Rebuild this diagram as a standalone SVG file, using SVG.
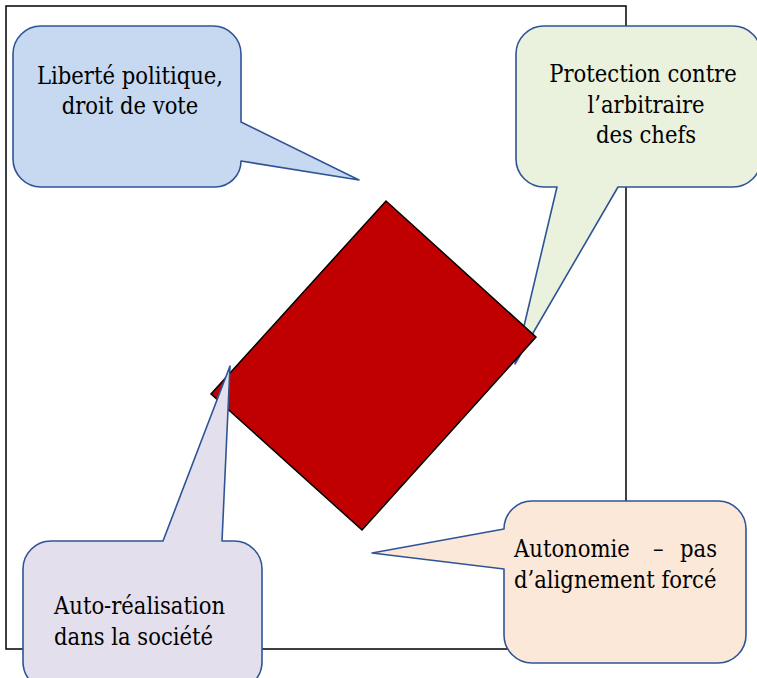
<svg xmlns="http://www.w3.org/2000/svg" width="757" height="678" viewBox="0 0 757 678">
  <style>
    .frame { fill: #ffffff; stroke: #000000; stroke-width: 1.5; }
    .callout { stroke: #2F5496; stroke-width: 1.6; stroke-linejoin: round; }
    .blue { fill: #C6D9F0; }
    .green { fill: #EAF1DD; }
    .peach { fill: #FCE8D8; }
    .lav { fill: #E4DFEC; }
    .diamond { fill: #C00000; stroke: #000000; stroke-width: 1.5; stroke-linejoin: miter; }
    text { font-family: 'DejaVu Serif Condensed', 'DejaVu Serif', 'Liberation Serif', serif; font-stretch: condensed; font-size: 23.5px; fill: #000000; }
  </style>
  <rect id="frame" class="frame" x="6" y="6" width="620" height="643"/>

  <g id="node-liberte">
    <path class="callout blue" d="M 41 26 H 213 A 28 28 0 0 1 241 54 V 122 L 359 180 L 241 161 A 26 26 0 0 1 215 187 H 41 A 28 28 0 0 1 13 159 V 54 A 28 28 0 0 1 41 26 Z"/>
    <text text-anchor="middle"><tspan x="130" y="83.5">Liberté politique,</tspan><tspan x="130" y="113.5">droit de vote</tspan></text>
  </g>

  <g id="node-protection">
    <path class="callout green" d="M 544 26 H 733 A 28 28 0 0 1 761 54 V 159 A 28 28 0 0 1 733 187 H 618 L 515 364 L 557 187 H 544 A 28 28 0 0 1 516 159 V 54 A 28 28 0 0 1 544 26 Z"/>
    <text text-anchor="middle"><tspan x="643" y="82">Protection contre</tspan><tspan x="646" y="112.5">l’arbitraire</tspan><tspan x="646" y="142.5">des chefs</tspan></text>
  </g>

  <g id="node-centre">
    <polygon class="diamond" points="386,201 536,337 362,530 211,394"/>
  </g>

  <g id="node-autonomie">
    <path class="callout peach" d="M 532 501 H 718 A 28 28 0 0 1 746 529 V 635 A 28 28 0 0 1 718 663 H 532 A 28 28 0 0 1 504 635 V 569 L 372 553 L 504 529 A 28 28 0 0 1 532 501 Z"/>
    <text><tspan x="514" y="557">Autonomie</tspan><tspan x="653" y="557">–</tspan><tspan x="717" y="557" text-anchor="end">pas</tspan><tspan x="514" y="587.5">d’alignement forcé</tspan></text>
  </g>

  <g id="node-autorealisation">
    <path class="callout lav" d="M 51 541 H 163 L 230 366 L 222 541 H 234 A 28 28 0 0 1 262 569 V 662 A 28 28 0 0 1 234 690 H 51 A 28 28 0 0 1 23 662 V 569 A 28 28 0 0 1 51 541 Z"/>
    <text><tspan x="54" y="613.5">Auto-réalisation</tspan><tspan x="54" y="644.5">dans la société</tspan></text>
  </g>
</svg>
